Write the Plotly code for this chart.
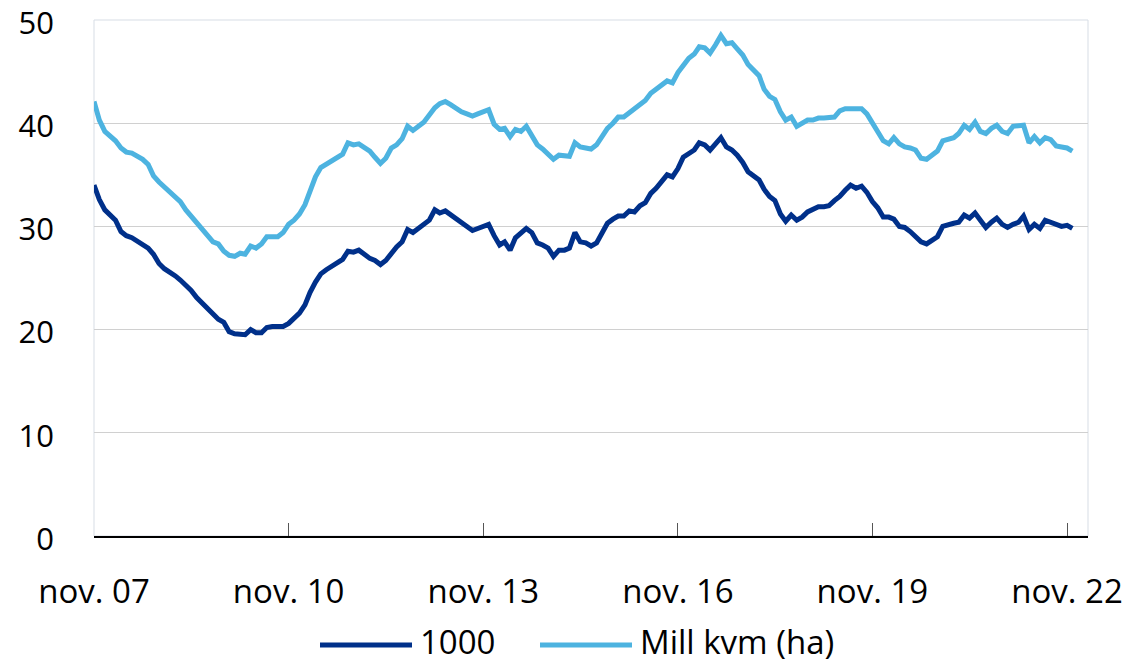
import pandas as pd
import plotly.graph_objects as go

start_month = "2007-11-01"
n_months = 182

series_1000 = [
    34.0, 32.6, 31.6, 31.0, 30.6, 29.5, 29.1, 28.9, 28.6, 28.2,
    27.9, 27.3, 26.4, 25.9, 25.6, 25.2, 24.8, 24.3, 23.8, 23.1,
    22.6, 22.1, 21.6, 21.0, 20.7, 19.8, 19.6, 19.6, 19.5, 20.0,
    19.7, 19.7, 20.2, 20.3, 20.3, 20.3, 20.6, 21.1, 21.6, 22.4,
    23.6, 24.6, 25.4, 25.8, 26.1, 26.4, 26.8, 27.6, 27.5, 27.7,
    27.3, 26.9, 26.7, 26.3, 26.7, 27.4, 28.0, 28.5, 29.7, 29.4,
    29.8, 30.2, 30.6, 31.6, 31.3, 31.5, 31.1, 30.7, 30.3, 29.9,
    29.6, 29.8, 30.0, 30.2, 29.1, 28.2, 28.5, 27.7, 28.9, 29.3,
    29.8, 29.4, 28.4, 28.2, 27.9, 27.1, 27.7, 27.7, 27.9, 29.4,
    28.5, 28.4, 28.1, 28.4, 29.4, 30.3, 30.7, 31.0, 31.0, 31.5,
    31.4, 32.0, 32.3, 33.2, 33.7, 34.3, 35.0, 34.8, 35.6, 36.7,
    37.0, 37.4, 38.1, 37.9, 37.4, 38.0, 38.6, 37.7, 37.4, 36.9,
    36.2, 35.3, 34.9, 34.5, 33.6, 32.9, 32.5, 31.2, 30.5, 31.1,
    30.6, 30.9, 31.4, 31.6, 31.9, 31.9, 32.0, 32.5, 32.9, 33.5,
    34.0, 33.7, 33.9, 33.3, 32.4, 31.8, 30.9, 30.9, 30.7, 30.0,
    29.9, 29.5, 29.0, 28.5, 28.3, 28.6, 29.0, 30.0, 30.2, 30.3,
    30.4, 31.1, 30.8, 31.3, 30.6, 29.9, 30.4, 30.8, 30.2, 29.9,
    30.2, 30.4, 31.0, 29.7, 30.2, 29.8, 30.6, 30.4, 30.1, 30.0,
    30.1, 29.8,
]

series_mill_kvm = [
    42.1, 40.3, 39.2, 38.7, 38.3, 37.6, 37.2, 37.1, 36.8, 36.5,
    36.0, 34.9, 34.3, 33.8, 33.4, 32.8, 32.4, 31.6, 31.0, 30.2,
    29.6, 29.0, 28.5, 28.3, 27.6, 27.2, 27.1, 27.4, 27.3, 28.1,
    27.9, 28.3, 29.0, 29.0, 29.0, 29.4, 30.2, 30.6, 31.2, 32.1,
    33.5, 34.8, 35.7, 36.0, 36.3, 36.6, 37.0, 38.1, 37.9, 38.0,
    37.6, 37.3, 36.7, 36.1, 36.6, 37.6, 37.9, 38.5, 39.7, 39.3,
    39.7, 40.1, 40.8, 41.5, 41.9, 42.1, 41.8, 41.4, 41.1, 40.9,
    40.7, 40.9, 41.1, 41.3, 39.9, 39.4, 39.5, 38.7, 39.4, 39.2,
    39.7, 38.9, 37.9, 37.5, 37.0, 36.5, 36.9, 36.9, 36.8, 38.1,
    37.7, 37.6, 37.5, 37.9, 38.8, 39.5, 40.0, 40.6, 40.6, 41.0,
    41.5, 41.9, 42.2, 42.9, 43.3, 43.6, 44.1, 43.9, 44.9, 45.6,
    46.3, 46.7, 47.4, 47.3, 46.8, 47.6, 48.5, 47.7, 47.8, 47.2,
    46.6, 45.7, 45.1, 44.6, 43.3, 42.6, 42.3, 41.1, 40.3, 40.6,
    39.7, 40.0, 40.3, 40.3, 40.5, 40.5, 40.5, 40.6, 41.2, 41.4,
    41.4, 41.4, 41.4, 40.9, 40.0, 39.1, 38.3, 38.0, 38.6, 38.0,
    37.7, 37.6, 37.4, 36.6, 36.5, 36.9, 37.3, 38.3, 38.5, 38.6,
    39.0, 39.8, 39.4, 40.1, 39.2, 39.0, 39.5, 39.8, 39.2, 39.0,
    39.7, 39.8, 39.8, 38.1, 38.7, 38.1, 38.6, 38.4, 37.8, 37.7,
    37.6, 37.3,
]

tick_dates = ["2007-11-01", "2010-11-01", "2013-11-01", "2016-11-01",
              "2019-11-01", "2022-11-01"]
tick_labels = ["nov. 07", "nov. 10", "nov. 13", "nov. 16", "nov. 19", "nov. 22"]
y_ticks = [0, 10, 20, 30, 40, 50]
legend_names = ["1000", "Mill kvm (ha)"]

DARK = "#00308A"
LIGHT = "#4DB3E0"
FONT = "Open Sans"
AX_SIZE = 33
Y_SIZE = 31
LEG_SIZE = 33

dates = pd.date_range(start_month, periods=n_months, freq="MS")

W, H = 1127, 664
ML, MR, MT, MB = 94, 39, 20, 128
PW, PH = W - ML - MR, H - MT - MB

fig = go.Figure()
fig.add_trace(go.Scatter(x=dates, y=series_1000, mode="lines", name=legend_names[0],
                         line=dict(color=DARK, width=5), showlegend=False))
fig.add_trace(go.Scatter(x=dates, y=series_mill_kvm, mode="lines", name=legend_names[1],
                         line=dict(color=LIGHT, width=5), showlegend=False))

def px_x(px):
    return (px - ML) / PW

def px_y(py):
    return (H - MB - py) / PH

shapes = [
    dict(type="rect", xref="paper", yref="paper", x0=0, x1=1, y0=0, y1=1,
         line=dict(color="#D7DDE5", width=1), layer="below"),
]
annotations = []
# custom legend
leg_line_y = px_y(645)
leg_text_y = px_y(641)
for (x0, x1, tx, col, name) in [(320, 412, 418, DARK, legend_names[0]),
                                (540, 632, 638, LIGHT, legend_names[1])]:
    shapes.append(dict(type="line", xref="paper", yref="paper",
                       x0=px_x(x0), x1=px_x(x1), y0=leg_line_y, y1=leg_line_y,
                       line=dict(color=col, width=5)))
    annotations.append(dict(xref="paper", yref="paper", x=px_x(tx), y=leg_text_y,
                            text=name, showarrow=False, xanchor="left", yanchor="middle",
                            font=dict(family=FONT, size=LEG_SIZE, color="#000000")))

fig.update_layout(
    width=W, height=H,
    margin=dict(l=ML, r=MR, t=MT, b=MB, pad=0, autoexpand=False),
    paper_bgcolor="white", plot_bgcolor="white",
    font=dict(family=FONT, size=AX_SIZE, color="#000000"),
    shapes=shapes, annotations=annotations,
    xaxis=dict(
        type="date",
        range=["2007-11-01", "2023-02-27"],
        tickvals=tick_dates, ticktext=tick_labels,
        ticks="inside", ticklen=13, tickwidth=1, tickcolor="#555555",
        showline=True, linecolor="#000000", linewidth=1.5,
        showgrid=False, zeroline=False,
        tickfont=dict(family=FONT, size=AX_SIZE, color="#000000"),
        ticklabelstandoff=26,
        ticklabeloverflow="allow",
        automargin=False,
    ),
    yaxis=dict(
        range=[0, 50], tickvals=y_ticks,
        showgrid=True, gridcolor="#D0D0D0", gridwidth=1,
        zeroline=False, showline=False, ticks="",
        tickfont=dict(family=FONT, size=Y_SIZE, color="#000000"),
        ticklabelstandoff=39,
        ticklabelshift=3,
        ticklabeloverflow="allow",
        automargin=False,
    ),
)

fig.write_html("out.html")
